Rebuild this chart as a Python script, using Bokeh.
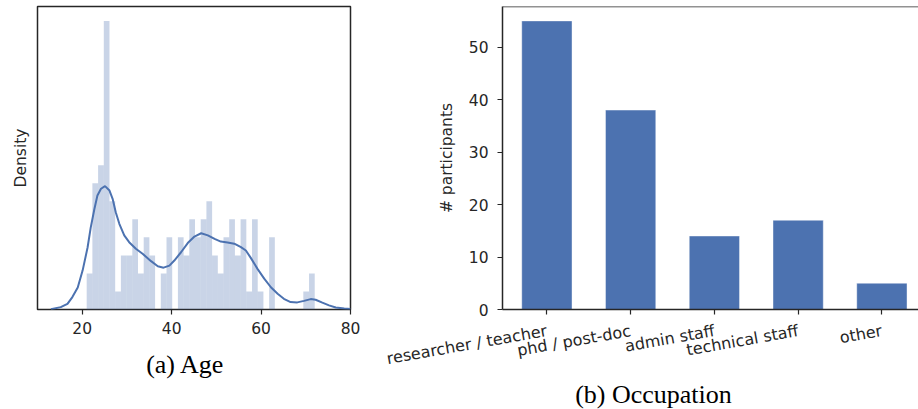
import numpy as np
from bokeh.plotting import figure
from bokeh.layouts import row
from bokeh.models import Range1d, FixedTicker, Span, LinearAxis
from bokeh.embed import file_html
from bokeh.resources import INLINE

# ---------------- data ----------------
hist_start = 21.0
hist_bin_width = 1.275
hist_counts = [2, 7, 8, 16, 6, 1, 3, 3, 5, 2, 4, 3, 0, 2, 4, 0, 4, 3, 5, 4,
               5, 6, 3, 2, 4, 5, 3, 5, 1, 5, 1, 0, 4, 0, 0, 0, 0, 0, 1, 2]

kde_age = [13.0, 15.2, 16.7, 17.8, 19.0, 20.1, 21.2, 21.9, 22.7, 23.4,
           24.2, 25.1, 26.1, 26.8, 27.5, 28.3, 29.4, 30.5, 32.0, 33.5,
           35.4, 36.9, 38.2, 39.5, 40.6, 42.1, 43.6, 45.1, 46.6, 48.1,
           49.6, 51.0, 52.5, 54.0, 55.5, 56.6, 57.7, 59.2, 60.7, 62.2,
           63.7, 65.1, 66.6, 68.1, 69.6, 71.1, 72.2, 73.7, 75.2, 76.7,
           78.6, 80.0]
kde_density = [0.0001, 0.0008, 0.0019, 0.0042, 0.0074, 0.0132, 0.0209, 0.0276, 0.0337, 0.0384,
               0.0407, 0.0416, 0.0401, 0.0373, 0.0328, 0.0289, 0.0250, 0.0227, 0.0205, 0.0188,
               0.0163, 0.0146, 0.0141, 0.0148, 0.0165, 0.0193, 0.0224, 0.0246, 0.0257, 0.0250,
               0.0238, 0.0229, 0.0226, 0.0222, 0.0210, 0.0199, 0.0174, 0.0137, 0.0104, 0.0075,
               0.0053, 0.0036, 0.0025, 0.0024, 0.0029, 0.0035, 0.0033, 0.0023, 0.0014, 0.0007,
               0.0003, 0.0002]

age_ticks = [20, 40, 60, 80]

occupations = ["researcher / teacher", "phd / post-doc", "admin staff",
               "technical staff", "other"]
participants = [55, 38, 14, 17, 5]
count_ticks = [0, 10, 20, 30, 40, 50]

caption_a = "(a) Age"
caption_b = "(b) Occupation"

# ---------------- style ----------------
BLUE = "#4c72b0"
INK = "#262626"
FONT = "DejaVu Sans"
FS = "15.5px"
CAP_FONT = "Liberation Serif"
CAP_FS = "26px"


def style_axis(ax, fs=FS):
    ax.major_label_text_font = FONT
    ax.major_label_text_font_size = fs
    ax.major_label_text_color = INK
    ax.axis_label_text_font = FONT
    ax.axis_label_text_font_size = FS
    ax.axis_label_text_font_style = "normal"
    ax.axis_label_text_color = INK
    ax.major_tick_line_color = INK
    ax.major_tick_line_width = 1.2
    ax.major_tick_in = 0
    ax.major_tick_out = 5
    ax.minor_tick_line_color = None


def caption_axis(p, range_name, pos, text, standoff):
    ax = LinearAxis(x_range_name=range_name, ticker=FixedTicker(ticks=[pos]),
                    major_label_overrides={pos: text})
    ax.axis_line_color = None
    ax.major_tick_line_color = None
    ax.minor_tick_line_color = None
    ax.major_tick_in = 0
    ax.major_tick_out = 0
    ax.major_label_standoff = standoff
    ax.major_label_text_font = CAP_FONT
    ax.major_label_text_font_size = CAP_FS
    ax.major_label_text_color = "#000000"
    p.add_layout(ax, "below")


# ---------------- (a) Age ----------------
n_total = sum(hist_counts)
edges = hist_start + hist_bin_width * np.arange(len(hist_counts) + 1)
dens = np.array(hist_counts) / (n_total * hist_bin_width)
ymax_a = 1.05 * dens.max()

FW1, FH = 313, 303
p1 = figure(frame_width=FW1, frame_height=FH,
            min_border_left=37, min_border_right=20,
            min_border_top=6, min_border_bottom=99,
            x_range=Range1d(10, 80), y_range=Range1d(0, ymax_a),
            output_backend="svg", toolbar_location=None)
p1.extra_x_ranges = {"cap": Range1d(0, FW1)}
p1.quad(left=edges[:-1], right=edges[1:], bottom=0, top=dens,
        fill_color=BLUE, fill_alpha=0.3, line_color=None)
p1.line(kde_age, kde_density, line_color=BLUE, line_width=2)

p1.xgrid.grid_line_color = None
p1.ygrid.grid_line_color = None
p1.outline_line_color = INK
p1.outline_line_width = 1.5
p1.outline_line_alpha = 1.0
style_axis(p1.xaxis[0])
style_axis(p1.yaxis[0])
p1.xaxis.ticker = FixedTicker(ticks=age_ticks)
p1.xaxis.axis_line_color = None
p1.xaxis.major_label_standoff = 7
p1.yaxis.ticker = FixedTicker(ticks=[])
p1.yaxis.axis_line_color = None
p1.yaxis.major_tick_out = 0
p1.yaxis.axis_label = "Density"
p1.yaxis.axis_label_standoff = 8
caption_axis(p1, "cap", 148, caption_a, 13)

# ---------------- (b) Occupation ----------------
xs = list(range(len(occupations)))
FW2 = 416
p2 = figure(frame_width=FW2, frame_height=FH,
            min_border_left=132, min_border_right=0,
            min_border_top=6, min_border_bottom=99,
            x_range=Range1d(-0.53, -0.53 + FW2 / 83.75), y_range=Range1d(0, 57.75),
            output_backend="svg", toolbar_location=None)
p2.extra_x_ranges = {"cap": Range1d(0, FW2)}
p2.vbar(x=xs, top=participants, width=0.6, bottom=0,
        fill_color=BLUE, line_color="white", line_width=0.8, line_alpha=0.5)

p2.xgrid.grid_line_color = None
p2.ygrid.grid_line_color = None
p2.outline_line_color = None
style_axis(p2.xaxis[0], "16px")
style_axis(p2.yaxis[0])
p2.xaxis.ticker = FixedTicker(ticks=xs)
p2.xaxis.major_label_overrides = {i: name for i, name in zip(xs, occupations)}
p2.xaxis.major_label_orientation = 0.1745
p2.xaxis.major_label_standoff = 16
p2.xaxis.axis_line_color = INK
p2.xaxis.axis_line_width = 1.5
p2.yaxis.ticker = FixedTicker(ticks=count_ticks)
p2.yaxis.axis_line_color = INK
p2.yaxis.axis_line_width = 1.5
p2.yaxis.major_label_standoff = 9
p2.yaxis.axis_label = "# participants"
p2.yaxis.axis_label_standoff = 10
p2.add_layout(Span(location=57.75, dimension="width", line_color=INK, line_width=1.5))
caption_axis(p2, "cap", 151, caption_b, -1)

layout = row(p1, p2)
open("out.html", "w").write(file_html(layout, INLINE))
